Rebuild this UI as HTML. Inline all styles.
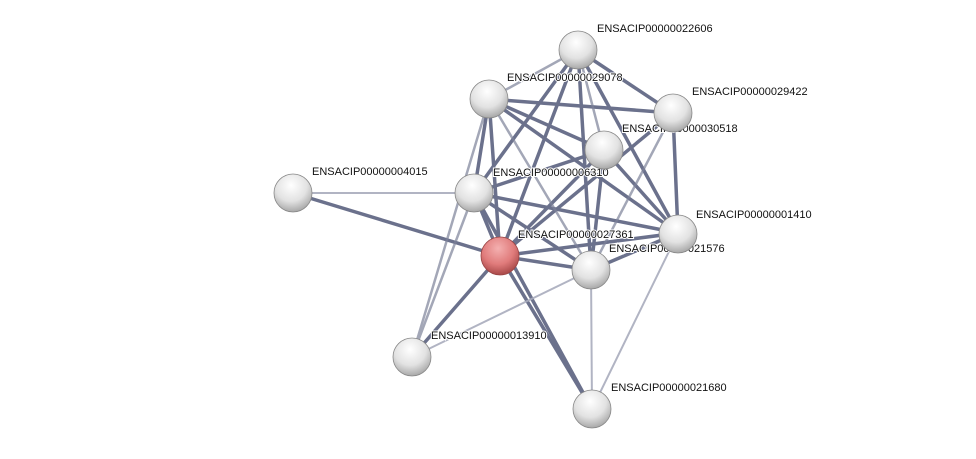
<!DOCTYPE html><html><head><style>body{margin:0;background:#fff}svg text{font-family:"Liberation Sans",sans-serif;font-size:11px;fill:#111}</style></head><body>
<svg width="976" height="454" xmlns="http://www.w3.org/2000/svg">
<defs>
<radialGradient id="g" cx="45%" cy="30%" r="70%"><stop offset="0" stop-color="#fff"/><stop offset="0.6" stop-color="#e2e2e2"/><stop offset="1" stop-color="#a8a8a8"/></radialGradient>
<radialGradient id="r" cx="45%" cy="30%" r="70%"><stop offset="0" stop-color="#f4b0b0"/><stop offset="0.6" stop-color="#e07b7b"/><stop offset="1" stop-color="#a84848"/></radialGradient>
</defs>
<g stroke-linecap="round">
<g stroke="#5b6280" stroke-width="3.5" opacity="0.9">
<line x1="500" y1="256" x2="293" y2="193"/>
<line x1="500" y1="256" x2="474" y2="193"/>
<line x1="500" y1="256" x2="489" y2="99"/>
<line x1="500" y1="256" x2="578" y2="50"/>
<line x1="500" y1="256" x2="604" y2="150"/>
<line x1="500" y1="256" x2="678" y2="233"/>
<line x1="500" y1="256" x2="591" y2="270"/>
<line x1="500" y1="256" x2="592" y2="409"/>
<line x1="500" y1="256" x2="412" y2="357"/>
<line x1="474" y1="193" x2="578" y2="50"/>
<line x1="474" y1="193" x2="489" y2="99"/>
<line x1="474" y1="193" x2="604" y2="150"/>
<line x1="474" y1="193" x2="678" y2="233"/>
<line x1="474" y1="193" x2="591" y2="270"/>
<line x1="474" y1="193" x2="592" y2="409"/>
<line x1="489" y1="99" x2="673" y2="113"/>
<line x1="489" y1="99" x2="678" y2="233"/>
<line x1="489" y1="99" x2="604" y2="150"/>
<line x1="578" y1="50" x2="673" y2="113"/>
<line x1="578" y1="50" x2="678" y2="233"/>
<line x1="578" y1="50" x2="591" y2="270"/>
<line x1="673" y1="113" x2="678" y2="233"/>
<line x1="673" y1="113" x2="500" y2="256"/>
<line x1="604" y1="150" x2="678" y2="233"/>
<line x1="604" y1="150" x2="591" y2="270"/>
<line x1="678" y1="233" x2="591" y2="270"/>
</g>
<g stroke="#7d8299" stroke-width="2.5" opacity="0.7">
<line x1="489" y1="99" x2="591" y2="270"/>
<line x1="578" y1="50" x2="604" y2="150"/>
<line x1="578" y1="50" x2="489" y2="99"/>
<line x1="489" y1="99" x2="412" y2="357"/>
<line x1="474" y1="193" x2="412" y2="357"/>
<line x1="673" y1="113" x2="591" y2="270"/>
</g>
<g stroke="#a9acbd" stroke-width="2" opacity="0.9">
<line x1="293" y1="193" x2="474" y2="193"/>
<line x1="412" y1="357" x2="591" y2="270"/>
<line x1="591" y1="270" x2="592" y2="409"/>
<line x1="678" y1="233" x2="592" y2="409"/>
</g>
</g>
<g stroke="#fff" stroke-width="2" paint-order="stroke">
<text x="597" y="32">ENSACIP00000022606</text>
<text x="507" y="81">ENSACIP00000029078</text>
<text x="692" y="95">ENSACIP00000029422</text>
<text x="622" y="132">ENSACIP00000030518</text>
<text x="312" y="175">ENSACIP00000004015</text>
<text x="493" y="176">ENSACIP00000006310</text>
<text x="696" y="218">ENSACIP00000001410</text>
<text x="518" y="238">ENSACIP00000027361</text>
<text x="609" y="252">ENSACIP00000021576</text>
<text x="431" y="339">ENSACIP00000013910</text>
<text x="611" y="391">ENSACIP00000021680</text>
</g>
<g stroke="#888" stroke-width="0.8">
<circle cx="578" cy="50" r="19" fill="url(#g)"/>
<circle cx="489" cy="99" r="19" fill="url(#g)"/>
<circle cx="673" cy="113" r="19" fill="url(#g)"/>
<circle cx="604" cy="150" r="19" fill="url(#g)"/>
<circle cx="293" cy="193" r="19" fill="url(#g)"/>
<circle cx="474" cy="193" r="19" fill="url(#g)"/>
<circle cx="678" cy="234" r="19" fill="url(#g)"/>
<circle cx="591" cy="270" r="19" fill="url(#g)"/>
<circle cx="412" cy="357" r="19" fill="url(#g)"/>
<circle cx="592" cy="409" r="19" fill="url(#g)"/>
<circle cx="500" cy="256" r="19" fill="url(#r)" stroke="#944"/>
</g>
</svg></body></html>
